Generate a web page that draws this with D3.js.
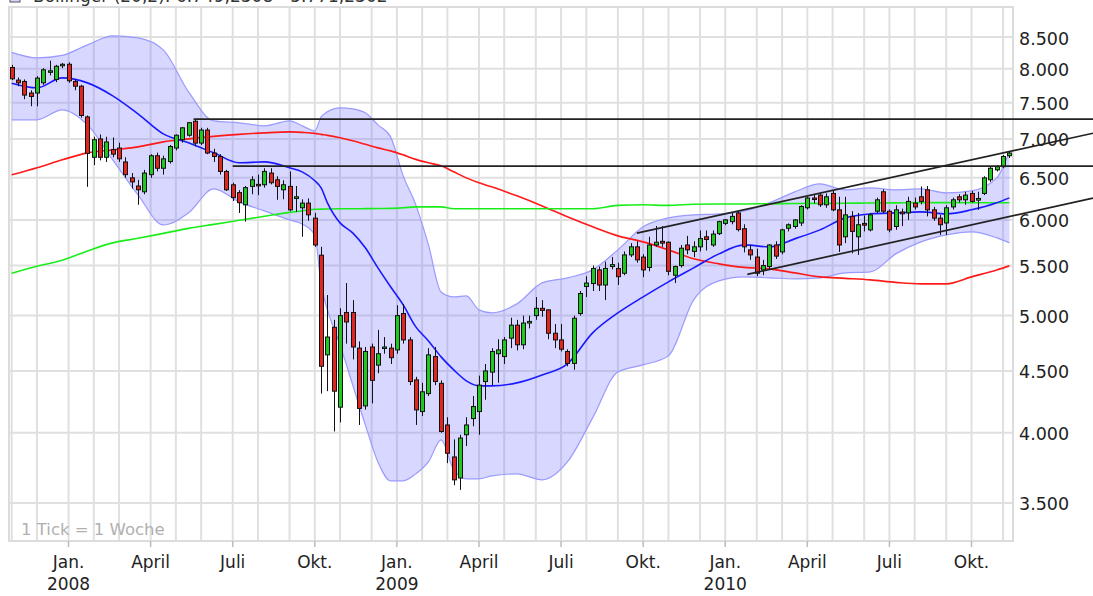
<!DOCTYPE html>
<html>
<head>
<meta charset="utf-8">
<script src="https://cdn.jsdelivr.net/npm/d3@7"></script>
<style>
  body { margin: 0; background: #ffffff; }
  svg text { font-family: "DejaVu Sans", Verdana, sans-serif; }
</style>
</head>
<body>
<div id="chart"></div>
<script>
// weekly candles, first candle is the week starting Monday 2007-10-29
var firstWeek = '2007-10-29';

var opens = [8020,7830,7810,7640,7640,7790,7950,7840,8050,8070,7810,7740,7300,6760,7000,6760,6860,6880,6700,6500,
  6400,6330,6540,6780,6620,6705,6880,6990,7050,7240,6945,7120,6815,6770,6580,6415,6320,6175,6395,6420,
  6415,6560,6476,6354,6395,6250,6140,6195,6020,5610,4640,4890,4200,5030,5030,4700,4210,4710,4550,4700,
  4700,4684,5020,4774,4424,4165,4310,4625,4395,4060,3820,3670,3985,4110,4165,4410,4490,4650,4625,4790,
  4910,4730,4930,5000,5070,5055,4835,4774,4670,4565,5020,5285,5315,5455,5300,5490,5470,5420,5613,5700,
  5590,5480,5720,5760,5750,5400,5500,5720,5650,5700,5810,5720,5845,5960,5980,6080,5900,5667,5590,5455,
  5490,5720,5645,5905,5925,5965,6140,6255,6290,6175,6310,6116,5810,6040,5810,5960,5887,6100,6330,6100,
  5925,6090,6080,6195,6270,6354,6116,6020,5965,6150,6270,6234,6310,6230,6310,6476,6600,6640,6780];
var highs = [8060,7870,7840,7680,7890,8010,8125,8060,8090,8100,7840,7760,7320,7030,7060,7030,7020,6950,6760,6560,
  6476,6600,6800,6820,6780,6920,7060,7160,7230,7270,7150,7150,6870,6800,6600,6440,6350,6400,6520,6540,
  6620,6620,6520,6470,6580,6400,6240,6250,6080,5700,5200,4960,5070,5320,5150,4760,4710,4740,4866,4800,
  4740,5100,5110,4800,4450,4400,4700,4710,4420,4120,3950,3985,4120,4290,4460,4560,4700,4780,4800,4980,
  4960,5000,5000,5180,5150,5060,4920,4920,4690,5000,5240,5390,5500,5490,5540,5590,5530,5650,5740,5760,
  5620,5810,5930,5930,5760,5500,5720,5820,5760,5880,5880,5880,5990,6010,6080,6100,5950,5720,5680,5560,
  5730,5760,5900,5960,6010,6170,6270,6290,6310,6310,6340,6270,6270,6100,6080,6050,6080,6260,6360,6120,
  6170,6130,6270,6260,6395,6400,6150,6058,6170,6260,6300,6330,6340,6330,6520,6640,6660,6790,6830];
var lows = [7830,7740,7550,7450,7450,7760,7900,7800,8010,7790,7680,7290,6390,6660,6720,6700,6760,6700,6500,6370,
  6175,6300,6500,6580,6540,6680,6850,6950,7030,6900,6920,6800,6700,6540,6340,6220,6080,5980,6300,6290,
  6380,6420,6234,6240,6100,6090,5810,5990,5700,4310,4330,4010,4080,4740,4600,4060,4180,4230,4480,4650,
  4560,4650,4740,4380,4060,4130,4290,4380,4000,3775,3620,3588,3900,4050,3985,4260,4380,4400,4560,4700,
  4680,4690,4880,4960,4990,4780,4700,4670,4540,4510,5000,5180,5240,5240,5150,5460,5300,5400,5590,5530,
  5380,5440,5700,5700,5400,5320,5480,5620,5590,5650,5660,5700,5830,5940,5950,5870,5640,5560,5390,5400,
  5460,5570,5620,5870,5900,5930,6120,6190,6150,6140,6100,5645,5740,5630,5613,5870,5870,6080,6080,5860,
  5887,5930,6000,6120,6180,6040,5990,5830,5830,6120,6200,6175,6200,6116,6290,6450,6580,6620,6750];
var closes = [7850,7790,7610,7590,7860,7985,7970,8040,8070,7820,7740,7320,6810,6990,6760,6960,6800,6740,6540,6450,
  6354,6560,6780,6620,6740,6900,7050,7150,7220,6945,7120,6815,6770,6580,6354,6260,6200,6380,6476,6410,
  6580,6440,6395,6415,6116,6270,6195,6058,5720,4540,4800,4330,5000,4940,4710,4190,4670,4420,4650,4710,
  4615,5000,4774,4410,4178,4325,4640,4410,4010,3847,3657,3960,4060,4205,4380,4500,4670,4684,4774,4910,
  4730,4930,4945,5070,5050,4835,4774,4690,4565,4975,5215,5320,5470,5300,5470,5510,5385,5613,5700,5560,
  5455,5720,5750,5740,5440,5490,5685,5667,5700,5790,5780,5840,5980,6000,6040,5890,5700,5613,5420,5500,
  5720,5600,5887,5945,6000,6155,6255,6250,6175,6270,6116,5720,6058,5870,5945,5940,6058,6234,6100,5887,
  6116,6070,6215,6150,6215,6116,6020,5945,6140,6234,6234,6290,6215,6250,6500,6620,6640,6770,6815];

// indicator lines, read at these week numbers
var sampleWeeks = [0,4,8,12,16,20,24,28,32,36,40,44,46,48,49,50,52,54,56,58,
  60,62,64,66,68,70,72,74,76,80,84,88,92,96,100,104,108,112,116,120,
  124,128,132,136,140,144,148,152,156,158];
var bbUpper = [8255,8169,8208,8374,8519,8486,8295,7657,7245,7218,7177,7245,7177,7109,7301,7371,7427,7413,7357,7190,
  7028,6525,6174,5721,5231,5182,5192,5055,5026,5113,5322,5373,5455,5667,5921,6023,6058,6069,6104,6198,
  6329,6426,6354,6377,6354,6365,6317,6341,6500,6831];
var bbMiddle = [7785,7716,7864,7789,7599,7343,7068,6948,6817,6689,6701,6626,6575,6464,6377,6198,5966,5854,5689,5476,
  5282,5103,4894,4765,4622,4509,4416,4374,4374,4399,4466,4561,4838,5026,5182,5332,5476,5624,5721,5699,
  5787,5887,6023,6069,6081,6092,6069,6116,6198,6257];
var bbLower = [7260,7260,7400,7190,6727,6293,5943,6081,6365,6210,6104,6000,5954,5831,5301,5055,4729,4382,4061,3784,
  3650,3650,3699,3784,3946,3727,3664,3664,3685,3699,3657,3784,4115,4492,4552,4631,5152,5342,5383,5373,
  5363,5373,5424,5435,5624,5754,5831,5865,5798,5743];
var maRed = [6537,6626,6727,6817,6856,6895,6961,7001,7035,7061,7082,7095,7088,7075,7061,7048,7015,6975,6929,6882,
  6843,6791,6733,6689,6651,6575,6500,6439,6390,6281,6162,6035,5921,5820,5754,5667,5571,5518,5481,5466,
  5424,5383,5368,5352,5327,5312,5312,5383,5455,5497];
var maGreen = [5421,5492,5557,5656,5743,5793,5848,5904,5949,5995,6041,6087,6104,6122,6124,6126,6128,6128,6130,6132,
  6133,6140,6151,6151,6151,6128,6128,6128,6128,6128,6128,6128,6128,6168,6175,6168,6182,6185,6185,6188,
  6190,6192,6194,6196,6198,6201,6201,6200,6199,6199];

// resistance lines (week, level) and trend channel (two anchor points each)
var levelLines = [{ week: 28.8, value: 7270 }, { week: 35, value: 6647 }];
var channelLines = [
  { w1: 99, v1: 5850, w2: 157, v2: 6816 },
  { w1: 116.5, v1: 5409, w2: 157, v2: 6023 }
];

var yTicks = [3500, 4000, 4500, 5000, 5500, 6000, 6500, 7000, 7500, 8000, 8500];
var quarterNames = { 0: 'Jan.', 3: 'April', 6: 'Juli', 9: 'Okt.' };
var titleText = 'Bollinger (20,2): 6.749,2308 - 5.771,2302';
var noteText = '1 Tick = 1 Woche';

var width = 1093, height = 596;
var plot = { left: 9, right: 1013, top: 7, bottom: 541 };

var svg = d3.select('#chart').append('svg')
  .attr('width', width)
  .attr('height', height);

svg.append('rect').attr('width', width).attr('height', height).attr('fill', '#ffffff');

var parseDay = d3.utcParse('%Y-%m-%d');
var week0 = parseDay(firstWeek);
function weekDate(w) {
  return new Date(week0.getTime() + w * 7 * 864e5);
}

var x = d3.scaleUtc()
  .domain([parseDay('2007-10-26'), parseDay('2010-11-12')])
  .range([plot.left, plot.right]);
var y = d3.scaleLog()
  .domain([3255, 9000])
  .range([plot.bottom, plot.top]);

function xw(w) { return x(weekDate(w)); }

// month grid lines sit on the week that holds the 1st of the month
var months = d3.utcMonth.range(parseDay('2007-11-01'), parseDay('2010-11-02'));
var grid = svg.append('g');
grid.selectAll('line.v').data(months).enter().append('line')
  .attr('x1', function (d) { return x(d3.utcMonday.floor(d)); })
  .attr('x2', function (d) { return x(d3.utcMonday.floor(d)); })
  .attr('y1', plot.top).attr('y2', plot.bottom)
  .attr('stroke', '#e0e0e0').attr('stroke-width', 2);
grid.selectAll('line.h').data(yTicks).enter().append('line')
  .attr('x1', plot.left).attr('x2', plot.right)
  .attr('y1', function (d) { return y(d); })
  .attr('y2', function (d) { return y(d); })
  .attr('stroke', '#e0e0e0').attr('stroke-width', 2);
grid.append('rect')
  .attr('x', plot.left).attr('y', plot.top)
  .attr('width', plot.right - plot.left).attr('height', plot.bottom - plot.top)
  .attr('fill', 'none').attr('stroke', '#dcdcdc').attr('stroke-width', 2);

// Bollinger band
var bandData = sampleWeeks.map(function (w, i) {
  return { w: w, up: bbUpper[i], mid: bbMiddle[i], low: bbLower[i], red: maRed[i], green: maGreen[i] };
});
var area = d3.area()
  .x(function (d) { return xw(d.w); })
  .y0(function (d) { return y(d.low); })
  .y1(function (d) { return y(d.up); })
  .curve(d3.curveMonotoneX);
svg.append('path').datum(bandData)
  .attr('d', area)
  .attr('fill', 'rgba(110,110,255,0.28)');

function lineFor(key) {
  return d3.line()
    .x(function (d) { return xw(d.w); })
    .y(function (d) { return y(d[key]); })
    .curve(d3.curveMonotoneX);
}
svg.append('path').datum(bandData).attr('d', lineFor('up'))
  .attr('fill', 'none').attr('stroke', '#9a9aff').attr('stroke-width', 1.2);
svg.append('path').datum(bandData).attr('d', lineFor('low'))
  .attr('fill', 'none').attr('stroke', '#9a9aff').attr('stroke-width', 1.2);
svg.append('path').datum(bandData).attr('d', lineFor('red'))
  .attr('fill', 'none').attr('stroke', '#ff1a1a').attr('stroke-width', 1.6);
svg.append('path').datum(bandData).attr('d', lineFor('green'))
  .attr('fill', 'none').attr('stroke', '#1aee1a').attr('stroke-width', 1.6);
svg.append('path').datum(bandData).attr('d', lineFor('mid'))
  .attr('fill', 'none').attr('stroke', '#1a1aff').attr('stroke-width', 1.6);

// candles
var candles = opens.map(function (o, i) {
  return { w: i, o: o, h: highs[i], l: lows[i], c: closes[i] };
});
var cg = svg.append('g');
cg.selectAll('line').data(candles).enter().append('line')
  .attr('x1', function (d) { return Math.round(xw(d.w)) + 0.5; })
  .attr('x2', function (d) { return Math.round(xw(d.w)) + 0.5; })
  .attr('y1', function (d) { return y(d.h); })
  .attr('y2', function (d) { return y(d.l); })
  .attr('stroke', '#111').attr('stroke-width', 1);
cg.selectAll('rect').data(candles).enter().append('rect')
  .attr('x', function (d) { return Math.round(xw(d.w)) - 1.5; })
  .attr('y', function (d) { return y(Math.max(d.o, d.c)); })
  .attr('width', 4)
  .attr('height', function (d) { return Math.max(1.5, y(Math.min(d.o, d.c)) - y(Math.max(d.o, d.c))); })
  .attr('fill', function (d) { return d.c >= d.o ? '#1ec81e' : '#e0261e'; })
  .attr('stroke', '#111').attr('stroke-width', 1);

// black support / resistance and channel lines, running out to the page edge
var lg = svg.append('g').attr('stroke', '#222').attr('stroke-width', 1.7);
lg.selectAll('line.lvl').data(levelLines).enter().append('line')
  .attr('x1', function (d) { return xw(d.week); })
  .attr('x2', width)
  .attr('y1', function (d) { return y(d.value); })
  .attr('y2', function (d) { return y(d.value); });
lg.selectAll('line.ch').data(channelLines).enter().append('line')
  .each(function (d) {
    var xa = xw(d.w1), ya = y(d.v1), xb = xw(d.w2), yb = y(d.v2);
    var slope = (yb - ya) / (xb - xa);
    d3.select(this)
      .attr('x1', xa).attr('y1', ya)
      .attr('x2', width).attr('y2', ya + slope * (width - xa));
  });

// right value axis
svg.selectAll('text.ytick').data(yTicks).enter().append('text')
  .attr('x', 1019)
  .attr('y', function (d) { return y(d) + 7.5; })
  .attr('font-size', 17.5)
  .attr('fill', '#222')
  .text(function (d) { return d3.format(',')(d).replace(',', '.'); });

// bottom time axis: quarter ticks with labels
var quarters = months.filter(function (d) { return d.getUTCMonth() % 3 === 0; });
svg.selectAll('line.qt').data(quarters).enter().append('line')
  .attr('x1', function (d) { return x(d3.utcMonday.floor(d)); })
  .attr('x2', function (d) { return x(d3.utcMonday.floor(d)); })
  .attr('y1', plot.bottom).attr('y2', plot.bottom + 6)
  .attr('stroke', '#bbb').attr('stroke-width', 1.5);
svg.selectAll('text.qn').data(quarters).enter().append('text')
  .attr('x', function (d) { return x(d3.utcMonday.floor(d)); })
  .attr('y', 568)
  .attr('text-anchor', 'middle')
  .attr('font-size', 17)
  .attr('fill', '#222')
  .text(function (d) { return quarterNames[d.getUTCMonth()]; });
svg.selectAll('text.yr').data(quarters.filter(function (d) { return d.getUTCMonth() === 0; })).enter().append('text')
  .attr('x', function (d) { return x(d3.utcMonday.floor(d)); })
  .attr('y', 590)
  .attr('text-anchor', 'middle')
  .attr('font-size', 17)
  .attr('fill', '#222')
  .text(function (d) { return d.getUTCFullYear(); });

// note and (mostly cut off) legend title
svg.append('text')
  .attr('x', 21).attr('y', 535)
  .attr('font-size', 16.5)
  .attr('fill', '#b0b0b0')
  .text(noteText);
svg.append('rect')
  .attr('x', 10).attr('y', -9).attr('width', 10).attr('height', 11)
  .attr('fill', '#d6d6ff').attr('stroke', '#555');
svg.append('text')
  .attr('x', 33).attr('y', 2)
  .attr('font-size', 17)
  .attr('fill', '#333')
  .text(titleText);
</script>
</body>
</html>
